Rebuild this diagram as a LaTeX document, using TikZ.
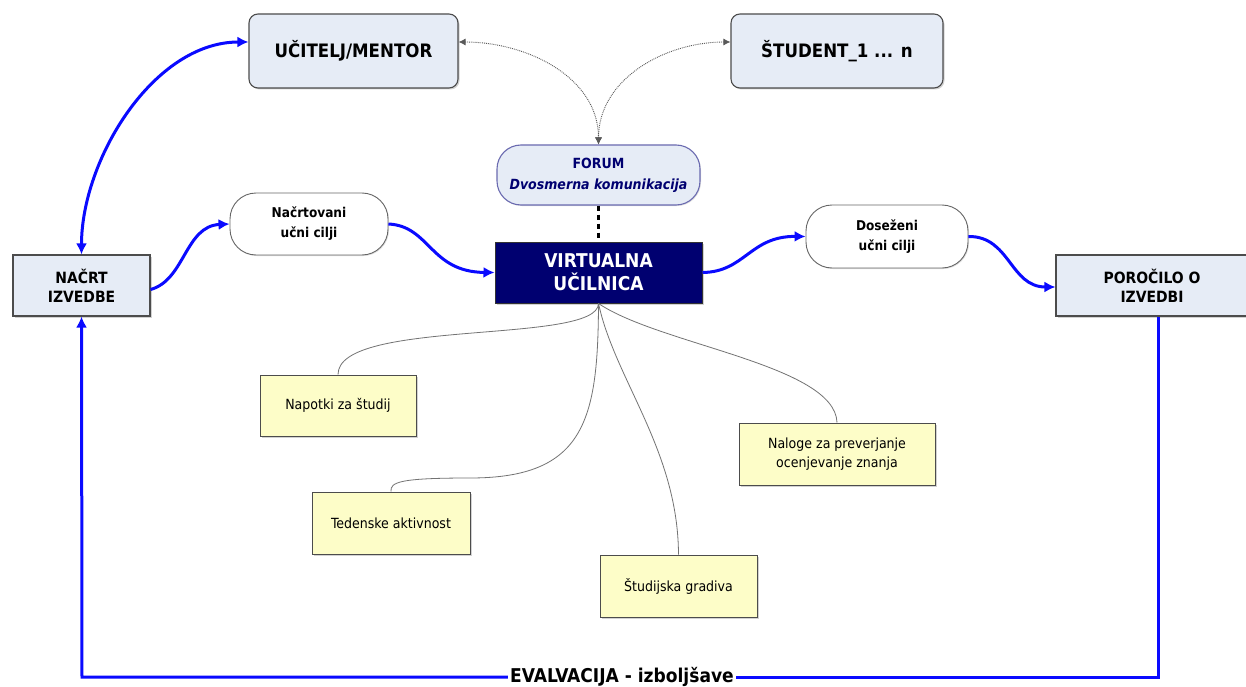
\documentclass[tikz,border=0pt]{standalone}
\usepackage{fontspec}
\setmainfont{DejaVu Sans Condensed}
\usetikzlibrary{arrows.meta,shadows,calc}
\definecolor{boxblue}{HTML}{E6ECF6}
\definecolor{navyv}{HTML}{000070}
\definecolor{forumb}{HTML}{6A6AB0}
\definecolor{noteyel}{HTML}{FDFDC8}
\definecolor{flowblue}{HTML}{0A0AFF}
\tikzset{
  mainbox/.style={draw=black!70, line width=1.1pt, fill=boxblue, align=center,
    font=\bfseries\fontsize{15.5}{19}\selectfont,
    drop shadow={shadow xshift=1.5pt, shadow yshift=-1.5pt, opacity=0.35}},
  roundbox/.style={mainbox, rounded corners=9pt, font=\bfseries\fontsize{18.5}{21}\selectfont},
  pillbox/.style={draw=black!60, line width=0.9pt, fill=white, rounded corners=26pt, align=center,
    font=\bfseries\fontsize{13.5}{20}\selectfont,
    drop shadow={shadow xshift=1pt, shadow yshift=-1pt, opacity=0.25}},
  notebox/.style={draw=black!70, line width=1pt, fill=noteyel, align=center, inner sep=2pt,
    font=\fontsize{14}{19}\selectfont,
    drop shadow={shadow xshift=1.5pt, shadow yshift=-1.5pt, opacity=0.35}},
  flow/.style={draw=flowblue, line width=3pt, -{Latex[length=11pt,width=11pt]}},
  flowline/.style={draw=flowblue, line width=3pt},
  dotarrow/.style={draw=black!65, line width=0.9pt, densely dotted, {Latex[length=7pt,width=7pt]}-{Latex[length=7pt,width=7pt]}},
  branch/.style={draw=black!55, line width=0.8pt}
}
\begin{document}
\begin{tikzpicture}[x=1pt,y=1pt]
\useasboundingbox (0,0) rectangle (1246,-687);
\fill[white] (0,0) rectangle (1246,-687);

% main nodes
\node[roundbox, minimum width=209pt, minimum height=74pt] (uc) at (353.5,-51) {UČITELJ/MENTOR};
\node[roundbox, minimum width=212pt, minimum height=74pt] (st) at (837,-51) {ŠTUDENT\_1 ... n};
\node[draw=forumb, line width=1.1pt, fill=boxblue, rounded corners=24pt, align=center,
      minimum width=203pt, minimum height=60pt, text=navyv, inner sep=2pt,
      font=\bfseries\fontsize{14}{21}\selectfont,
      drop shadow={shadow xshift=1pt, shadow yshift=-1pt, opacity=0.25}] (forum) at (598.5,-175)
      {FORUM\\\itshape Dvosmerna komunikacija};
\node[draw=black!80, line width=1pt, fill=navyv, text=white, align=center,
      minimum width=207pt, minimum height=61pt,
      font=\bfseries\fontsize{19}{23}\selectfont,
      drop shadow={shadow xshift=1.5pt, shadow yshift=-1.5pt, opacity=0.35}] (virt) at (598.5,-272.5) {VIRTUALNA\\UČILNICA};
\node[pillbox, minimum width=158pt, minimum height=62pt] (nac) at (309,-224) {Načrtovani\\učni cilji};
\node[pillbox, minimum width=162pt, minimum height=63pt] (dos) at (887,-236.5) {Doseženi\\učni cilji};
\node[mainbox, minimum width=137pt, minimum height=61pt] (nacrt) at (81.5,-285.5) {NAČRT\\IZVEDBE};
\node[mainbox, minimum width=192pt, minimum height=61pt] (por) at (1152,-285.5) {POROČILO O\\IZVEDBI};

% notes
\node[notebox, minimum width=156pt, minimum height=61pt] (nap) at (338,-405.5) {Napotki za študij};
\node[notebox, minimum width=158pt, minimum height=62pt] (ted) at (391,-523) {Tedenske aktivnost};
\node[notebox, minimum width=157pt, minimum height=62pt] (stu) at (678.5,-586) {Študijska gradiva};
\node[notebox, minimum width=196pt, minimum height=62pt] (nal) at (837,-454) {Naloge za preverjanje\\ocenjevanje znanja};

% evaluation label
\node[font=\bfseries\fontsize{19}{21}\selectfont, inner sep=2pt] (ev) at (622,-677) {EVALVACIJA - izboljšave};

% forum arrows
\draw[dotarrow] ([yshift=9pt]uc.east) to[out=0,in=90] (forum.north);
\draw[dotarrow] ([yshift=9pt]st.west) to[out=180,in=90] (forum.north);
\draw[black, line width=2.2pt, dash pattern=on 5pt off 4pt] (forum.south) -- (virt.north);

% blue flow
\draw[flow] ([yshift=-4pt]nacrt.east) .. controls (185,-280) and (185,-226) .. (nac.west);
\draw[flow] (nac.east) .. controls (430,-226) and (430,-272) .. (virt.west);
\draw[flow] (virt.east) .. controls (745,-272) and (750,-236) .. (dos.west);
\draw[flow] (dos.east) .. controls (1010,-236) and (1010,-287) .. ([yshift=-1.5pt]por.west);
\draw[flowline, {Latex[length=11pt,width=11pt]}-{Latex[length=11pt,width=11pt]}] (nacrt.north) to[out=90,in=180, looseness=0.9] ([yshift=9pt]uc.west);

% evaluation loop
\coordinate (br) at ($(por.south)+(6,-361)$);
\coordinate (bl) at (82,-677);
\draw[flowline] ([xshift=6pt]por.south) -- (br) -- (ev.east |- br);
\draw[flow] (ev.west |- bl) -- (bl) -- (nacrt.south);

% branches to notes
\draw[branch] (virt.south) .. controls (598,-345) and (338,-318) .. (nap.north);
\draw[branch] (virt.south) .. controls (598,-420) and (585,-478) .. (470,-478) .. controls (400,-478) and (390,-482) .. (ted.north);
\draw[branch] (virt.south) .. controls (615,-380) and (678,-450) .. (stu.north);
\draw[branch] (virt.south) .. controls (660,-345) and (835,-365) .. (nal.north);
\end{tikzpicture}
\end{document}
